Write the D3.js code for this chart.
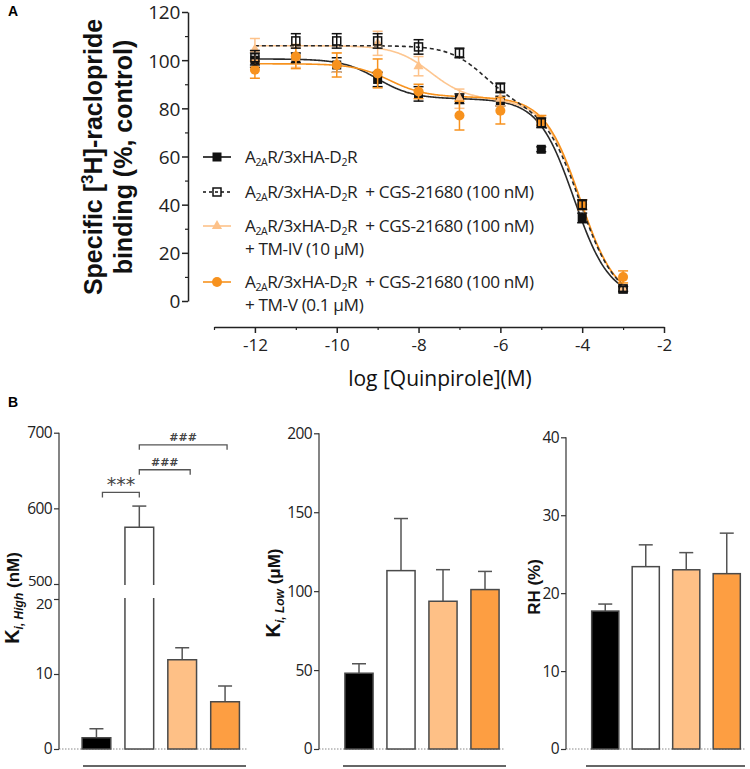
<!DOCTYPE html>
<html><head><meta charset="utf-8">
<script src="https://cdn.jsdelivr.net/npm/d3@7"></script>
<style>body{margin:0;background:#fff;} svg{display:block;font-family:"Open Sans",sans-serif;}</style>
</head><body>
<svg id="chart" width="750" height="769"></svg>
<script>
// ---------- Panel A data ----------
const logDose = [-12, -11, -10, -9, -8, -7, -6, -5, -4, -3];
const ctrlMean   = [100, 101, 98, 92, 86, 84, 83, 63, 34.5, 5];
const ctrlErr    = [3, 2, 3, 3, 3, 2, 2, 1, 2, 1];
const cgsMean    = [101, 108, 108, 108, 105.5, 103, 88.5, 74, 40, 5];
const cgsErr     = [3, 3, 3, 3, 3, 2, 2, 2, 2, 1];
const tm4Mean    = [104.5, 101, 99, 107, 97.5, 84, 84, 75, 40, 5];
const tm4Err     = [4.5, 4, 4, 5, 4, 4, 3, 2, 2, 1];
const tm5Mean    = [96, 101.5, 98, 94.5, 87, 77, 79, 75, 40, 10];
const tm5Err     = [3.5, 5, 5, 6, 3, 6, 5.5, 2, 2, 2.5];
// two-site fitted curve parameters (ctrl, cgs, tm4, tm5)
const fitTop      = [100.5, 106, 106, 98.5];
const fitBottom   = [1, 0, 0, 0];
const fitFracHigh = [0.166, 0.23, 0.21, 0.14];
const fitLogHigh  = [-9.0, -6.4, -7.7, -8.7];
const fitLogLow   = [-4.2, -4.05, -4.05, -4.05];
const xTicks = [-12, -10, -8, -6, -4, -2];
const yTicks = [0, 20, 40, 60, 80, 100, 120];

// ---------- Panel B data ----------
const groups = ["A2AR/3xHA-D2R", "+CGS-21680", "+CGS-21680 +TM-IV", "+CGS-21680 +TM-V"];
const kiHighMean = [1.5, 575, 11.9, 6.3];
const kiHighErr  = [1.2, 28, 1.6, 2.1];
const kiLowMean  = [48, 113, 93.6, 101];
const kiLowErr   = [6, 33, 20, 11.5];
const rhMean     = [17.7, 23.4, 23.0, 22.5];
const rhErr      = [0.9, 2.8, 2.2, 5.2];
const kiHighTicksLow = [0, 10, 20];
const kiHighTicksHigh = [500, 600, 700];
const kiLowTicks = [0, 50, 100, 150, 200];
const rhTicks = [0, 10, 20, 30, 40];
const sigBrackets = [
  {from: 0, to: 1, level: 621, label: "***"},
  {from: 1, to: 2, level: 651, label: "###"},
  {from: 1, to: 3, level: 684, label: "###"}
];

const barFill = ["#000000", "#ffffff", "#FEC086", "#FD9E42"];
const svg = d3.select("#chart");
const AX = "#222";

// ================= PANEL A =================
const x = d3.scaleLinear().domain([-13, -2]).range([214, 664]);
const y = d3.scaleLinear().domain([0, 120]).range([301, 12]);

svg.append("text").attr("x", 8).attr("y", 16).attr("font-family", "Liberation Sans, Arial, sans-serif")
  .attr("font-weight", "bold").attr("font-size", 14).text("A");

// y axis
const yAx = svg.append("g").attr("transform", "translate(188,0)")
  .call(d3.axisLeft(y).tickValues(yTicks).tickSize(6).tickSizeOuter(0).tickPadding(2));
yAx.select(".domain").attr("stroke", AX).attr("stroke-width", 1.5);
yAx.selectAll(".tick line").attr("stroke", AX).attr("stroke-width", 1.5);
yAx.selectAll(".tick text").attr("font-family", "Open Sans").attr("font-size", 19).attr("fill", "#222").attr("dy", "0.36em").attr("letter-spacing", "-0.3");
const yMinor = svg.append("g").attr("transform", "translate(188,0)")
  .call(d3.axisLeft(y).tickValues([10, 30, 50, 70, 90, 110]).tickSize(3).tickFormat(""));
yMinor.select(".domain").remove();
yMinor.selectAll("line").attr("stroke", AX).attr("stroke-width", 1.2);

// x axis
const xAx = svg.append("g").attr("transform", "translate(0,327)")
  .call(d3.axisBottom(x).tickValues(xTicks).tickSize(6).tickSizeOuter(0).tickPadding(6).tickFormat(d => String(d)));
xAx.select(".domain").attr("stroke", AX).attr("stroke-width", 1.5);
xAx.selectAll(".tick line").attr("stroke", AX).attr("stroke-width", 1.5);
xAx.selectAll(".tick text").attr("font-family", "Open Sans").attr("font-size", 17).attr("fill", "#222");
const xMinor = svg.append("g").attr("transform", "translate(0,327)")
  .call(d3.axisBottom(x).tickValues([-13, -11, -9, -7, -5, -3]).tickSize(3).tickFormat(""));
xMinor.select(".domain").remove();
xMinor.selectAll("line").attr("stroke", AX).attr("stroke-width", 1.2);

svg.append("text").attr("x", 440).attr("y", 386).attr("text-anchor", "middle")
  .attr("font-family", "Open Sans").attr("font-size", 21).attr("fill", "#111").text("log [Quinpirole](M)");

// y label
const yl = svg.append("text").attr("transform", "translate(102,157) rotate(-90)").attr("text-anchor", "middle")
  .attr("font-family", "Liberation Sans, Arial, sans-serif").attr("font-weight", "bold").attr("font-size", 25).attr("fill", "#111");
yl.append("tspan").text("Specific [");
yl.append("tspan").attr("baseline-shift", "super").attr("font-size", 17).text("3");
yl.append("tspan").text("H]-raclopride");
svg.append("text").attr("transform", "translate(132,157) rotate(-90)").attr("text-anchor", "middle")
  .attr("font-family", "Liberation Sans, Arial, sans-serif").attr("font-weight", "bold").attr("font-size", 25).attr("fill", "#111")
  .text("binding (%, control)");

// series definitions
const series = [
  {mean: ctrlMean, err: ctrlErr, color: "#111", curveColor: "#2a2a2a", dash: null, shape: "sqFill", fi: 0},
  {mean: tm4Mean, err: tm4Err, color: "#FDC28A", curveColor: "#FDC690", dash: null, shape: "tri", fi: 2},
  {mean: tm5Mean, err: tm5Err, color: "#F7921E", curveColor: "#F7921E", dash: null, shape: "circle", fi: 3},
  {mean: cgsMean, err: cgsErr, color: "#111", curveColor: "#2a2a2a", dash: "4,3", shape: "sqOpen", fi: 1}
];

const fineX = d3.range(-12, -2.995, 0.02);
function twoSite(i, lx) {
  const h = 1 / (1 + Math.pow(10, lx - fitLogHigh[i]));
  const l = 1 / (1 + Math.pow(10, lx - fitLogLow[i]));
  return fitBottom[i] + (fitTop[i] - fitBottom[i]) * (fitFracHigh[i] * h + (1 - fitFracHigh[i]) * l);
}
const line = d3.line().x(d => x(d[0])).y(d => y(d[1])).curve(d3.curveLinear);
[0, 2, 3, 1].forEach(k => {
  const s = series.find(ss => ss.fi === k);
  svg.append("path").datum(fineX.map(v => [v, twoSite(k, v)]))
    .attr("d", line).attr("fill", "none").attr("stroke", s.curveColor)
    .attr("stroke-width", 1.6).attr("stroke-dasharray", s.dash);
});

function drawMarker(g, shape, cx, cy, color) {
  if (shape === "sqFill") g.append("rect").attr("x", cx - 4.5).attr("y", cy - 4.5).attr("width", 9).attr("height", 9).attr("fill", color);
  else if (shape === "sqOpen") g.append("rect").attr("x", cx - 4).attr("y", cy - 4).attr("width", 8).attr("height", 8).attr("fill", "none").attr("stroke", color).attr("stroke-width", 1.5);
  else if (shape === "circle") g.append("circle").attr("cx", cx).attr("cy", cy).attr("r", 5).attr("fill", color);
  else if (shape === "tri") g.append("path").attr("d", d3.symbol().type(d3.symbolTriangle).size(45)()).attr("transform", `translate(${cx},${cy})`).attr("fill", color);
}

series.forEach(s => {
  const g = svg.append("g");
  logDose.forEach((ld, i) => {
    const cx = x(ld), y1 = y(s.mean[i] + s.err[i]), y2 = y(s.mean[i] - s.err[i]);
    g.append("line").attr("x1", cx).attr("x2", cx).attr("y1", y1).attr("y2", y2).attr("stroke", s.color).attr("stroke-width", 1.5);
    [y1, y2].forEach(yy => g.append("line").attr("x1", cx - 5).attr("x2", cx + 5).attr("y1", yy).attr("y2", yy).attr("stroke", s.color).attr("stroke-width", 1.5));
  });
  logDose.forEach((ld, i) => drawMarker(g, s.shape, x(ld), y(s.mean[i]), s.color));
});

// legend
const legendItems = [
  {shape: "sqFill", color: "#111", dash: null, lines: [[["A"], ["2A", 1], ["R/3xHA-D"], ["2", 1], ["R"]]], y: 157},
  {shape: "sqOpen", color: "#111", dash: "3,3", lines: [[["A"], ["2A", 1], ["R/3xHA-D"], ["2", 1], ["R  + CGS-21680 (100 nM)"]]], y: 192},
  {shape: "tri", color: "#FDC28A", dash: null, lines: [[["A"], ["2A", 1], ["R/3xHA-D"], ["2", 1], ["R  + CGS-21680 (100 nM)"]], [["+ TM-IV (10 μM)"]]], y: 226},
  {shape: "circle", color: "#F7921E", dash: null, lines: [[["A"], ["2A", 1], ["R/3xHA-D"], ["2", 1], ["R  + CGS-21680 (100 nM)"]], [["+ TM-V (0.1 μM)"]]], y: 282}
];
legendItems.forEach(it => {
  const g = svg.append("g");
  g.append("line").attr("x1", 203).attr("x2", 231).attr("y1", it.y).attr("y2", it.y)
    .attr("stroke", it.color).attr("stroke-width", 1.6).attr("stroke-dasharray", it.dash);
  drawMarker(g, it.shape, 217, it.y, it.color);
  it.lines.forEach((ln, li) => {
    const t = g.append("text").attr("x", 245).attr("y", it.y + 6 + li * 22.5).attr("font-family", "Open Sans")
      .attr("font-size", 17.2).attr("letter-spacing", "-0.4").attr("fill", "#222").style("white-space", "pre");
    let prevSub = false;
    ln.forEach(p => {
      if (p[1]) { t.append("tspan").attr("font-size", 10.5).attr("dy", prevSub ? 0 : 3).text(p[0]); prevSub = true; }
      else { t.append("tspan").attr("dy", prevSub ? -3 : 0).text(p[0]); prevSub = false; }
    });
  });
});

// ================= PANEL B =================
svg.append("text").attr("x", 8).attr("y", 407).attr("font-family", "Liberation Sans, Arial, sans-serif")
  .attr("font-weight", "bold").attr("font-size", 14).text("B");

function styleAxis(g) {
  g.select(".domain").remove();
  g.selectAll(".tick line").attr("stroke", "#333").attr("stroke-width", 1.2);
  g.selectAll(".tick text").attr("font-family", "Open Sans").attr("font-size", 15.5).attr("fill", "#222").attr("letter-spacing", "-0.6");
  return g;
}
function band(r0, r1) {
  return d3.scaleBand().domain(d3.range(4)).range([r0, r1]).paddingInner(0.33).paddingOuter(0.165);
}
function errBar(g, cx, bTop, eTop) {
  g.append("line").attr("x1", cx).attr("x2", cx).attr("y1", bTop).attr("y2", eTop).attr("stroke", "#555").attr("stroke-width", 1.5);
  g.append("line").attr("x1", cx - 7).attr("x2", cx + 7).attr("y1", eTop).attr("y2", eTop).attr("stroke", "#555").attr("stroke-width", 1.5);
}
function drawBars(g, xb, ys, means, errs) {
  means.forEach((m, i) => {
    const x0 = xb(i), w = xb.bandwidth(), cx = x0 + w / 2;
    errBar(g, cx, ys(m), ys(m + errs[i]));
    g.append("rect").attr("x", x0).attr("y", ys(m)).attr("width", w).attr("height", ys(0) - ys(m))
      .attr("fill", barFill[i]).attr("stroke", "#4a4a4a").attr("stroke-width", 1.5);
  });
}
function zeroAndBase(ys0, xAxis, xEnd, baseStart, baseEnd) {
  svg.append("line").attr("x1", xAxis).attr("x2", xEnd).attr("y1", ys0).attr("y2", ys0)
    .attr("stroke", "#888").attr("stroke-width", 1).attr("stroke-dasharray", "1.5,1.5");
  svg.append("line").attr("x1", baseStart).attr("x2", baseEnd).attr("y1", 766).attr("y2", 766)
    .attr("stroke", "#333").attr("stroke-width", 1.3);
}
function yLabel(xc, yc, parts) {
  const t = svg.append("text").attr("transform", `translate(${xc},${yc}) rotate(-90)`).attr("text-anchor", "middle")
    .attr("font-family", "Liberation Sans, Arial, sans-serif").attr("font-weight", "bold").attr("font-size", 17).attr("fill", "#111");
  parts.forEach(p => {
    const s = t.append("tspan").text(p.t);
    if (p.size) s.attr("font-size", p.size);
    if (p.italic) s.attr("font-style", "italic");
    if (p.dy) s.attr("dy", p.dy);
  });
}

// --- B1: Ki High (broken axis) ---
const b1x = band(75, 246.5);
const b1Low = d3.scaleLinear().domain([0, 20]).range([749, 599]);
const b1High = d3.scaleLinear().domain([500, 700]).range([584, 432.7]);
zeroAndBase(749, 59, 247, 83, 246);
svg.append("line").attr("x1", 59).attr("x2", 59).attr("y1", 749).attr("y2", 432.7).attr("stroke", "#333").attr("stroke-width", 1.2);
const aLow = styleAxis(svg.append("g").attr("transform", "translate(59,0)").call(d3.axisLeft(b1Low).tickValues(kiHighTicksLow).tickSize(5).tickPadding(2)));
const aHigh = styleAxis(svg.append("g").attr("transform", "translate(59,0)").call(d3.axisLeft(b1High).tickValues(kiHighTicksHigh).tickSize(5).tickPadding(2)));
aLow.selectAll(".tick text").filter(d => d === 20).attr("dy", "0.6em").attr("font-size", 15);
aHigh.selectAll(".tick text").filter(d => d === 500).attr("dy", "0.1em").attr("font-size", 15);
{
  const g = svg.append("g");
  kiHighMean.forEach((m, i) => {
    const x0 = b1x(i), w = b1x.bandwidth(), cx = x0 + w / 2;
    if (m <= 20) {
      errBar(g, cx, b1Low(m), b1Low(m + kiHighErr[i]));
      g.append("rect").attr("x", x0).attr("y", b1Low(m)).attr("width", w).attr("height", b1Low(0) - b1Low(m))
        .attr("fill", barFill[i]).attr("stroke", "#4a4a4a").attr("stroke-width", 1.5);
    } else {
      const bTop = b1High(m);
      errBar(g, cx, bTop, b1High(m + kiHighErr[i]));
      g.append("rect").attr("x", x0).attr("y", bTop).attr("width", w).attr("height", b1High(500) + 1 - bTop).attr("fill", barFill[i]);
      g.append("path").attr("d", `M${x0},${b1High(500) + 1}V${bTop}H${x0 + w}V${b1High(500) + 1}`)
        .attr("fill", "none").attr("stroke", "#4a4a4a").attr("stroke-width", 1.5);
      g.append("path").attr("d", `M${x0},${b1Low(20) - 1}V${b1Low(0)}H${x0 + w}V${b1Low(20) - 1}`)
        .attr("fill", barFill[i]).attr("stroke", "#4a4a4a").attr("stroke-width", 1.5);
    }
  });
  sigBrackets.forEach((b, k) => {
    const xa = b1x(b.from) + b1x.bandwidth() / 2 + (k === 0 ? 6 : 0);
    const xz = b1x(b.to) + b1x.bandwidth() / 2 + (k === 0 ? 0 : (k === 1 ? 8 : 2));
    const yy = b1High(b.level);
    g.append("path").attr("d", `M${xa},${yy + 5}V${yy}H${xz}V${yy + 5}`).attr("fill", "none").attr("stroke", "#555").attr("stroke-width", 1.3);
    g.append("text").attr("x", (xa + xz) / 2).attr("y", yy - (k === 0 ? 1 : 4)).attr("text-anchor", "middle")
      .attr("font-family", "DejaVu Sans").attr("font-size", k === 0 ? 19 : 11).attr("font-weight", k === 0 ? "normal" : "bold")
      .attr("fill", "#444").text(b.label);
  });
}
yLabel(19, 598, [{t: "K", size: 20}, {t: "i, High", size: 12, italic: true, dy: 4}, {t: " (nM)", dy: -4}]);

// --- B2: Ki Low ---
const b2x = band(338, 506);
const b2y = d3.scaleLinear().domain([0, 200]).range([749, 433.3]);
zeroAndBase(749, 319, 505, 343, 506);
svg.append("line").attr("x1", 319).attr("x2", 319).attr("y1", 749).attr("y2", 433.3).attr("stroke", "#333").attr("stroke-width", 1.2);
styleAxis(svg.append("g").attr("transform", "translate(319,0)").call(d3.axisLeft(b2y).tickValues(kiLowTicks).tickSize(5).tickPadding(2)));
drawBars(svg.append("g"), b2x, b2y, kiLowMean, kiLowErr);
yLabel(280, 593, [{t: "K", size: 20}, {t: "i, Low", size: 12, italic: true, dy: 4}, {t: " (μM)", dy: -4}]);

// --- B3: RH ---
const b3x = band(585, 747);
const b3y = d3.scaleLinear().domain([0, 40]).range([749, 437.3]);
zeroAndBase(749, 566, 746, 586, 745);
svg.append("line").attr("x1", 566).attr("x2", 566).attr("y1", 749).attr("y2", 437.3).attr("stroke", "#333").attr("stroke-width", 1.2);
styleAxis(svg.append("g").attr("transform", "translate(566,0)").call(d3.axisLeft(b3y).tickValues(rhTicks).tickSize(5).tickPadding(2)));
drawBars(svg.append("g"), b3x, b3y, rhMean, rhErr);
yLabel(540, 587, [{t: "RH (%)"}]);
</script>
</body></html>
